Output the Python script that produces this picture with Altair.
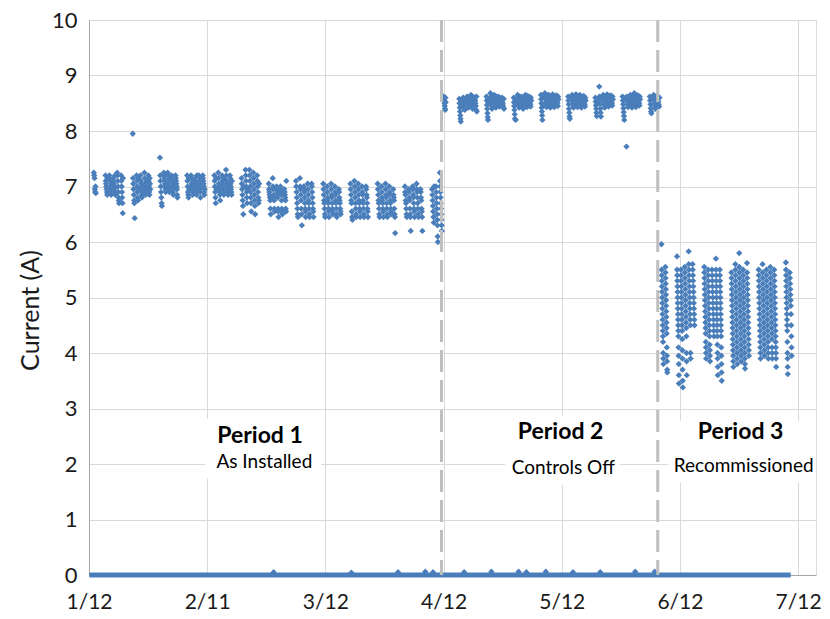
import altair as alt
import pandas as pd

ORIGIN = "2012-01-12"
BLUE = "#4A7EBB"
FONT = "Lato"

# x axis: ticks every 30.4 days from 1/12/2012
tick_days = [0, 30.4, 60.8, 91.2, 121.6, 152.0, 182.4]
tick_labels = ["1/12", "2/11", "3/12", "4/12", "5/12", "6/12", "7/12"]
y_ticks = [0, 1, 2, 3, 4, 5, 6, 7, 8, 9, 10]

# readings of a working day are logged between these hours
READ_START, READ_END = 6, 18

# ---------------- Period 1 : As Installed ----------------
p1_starts = ["2012-01-13", "2012-01-16", "2012-01-23", "2012-01-30", "2012-02-06",
             "2012-02-13", "2012-02-20", "2012-02-27", "2012-03-05", "2012-03-12",
             "2012-03-19", "2012-03-26", "2012-04-02", "2012-04-09"]
p1_readings = [
    ["7.25 7.2 7.15 6.95 6.9 7.0 6.88"],
    ["7.2 7.1 7.05 7.0 6.95 6.9 6.85 7.15",
     "7.2 7.15 7.1 7.0 6.95 6.9 6.85 7.05",
     "7.15 7.1 7.05 7.0 6.95 6.9 7.2 6.85",
     "7.25 7.2 7.1 7.0 6.9 6.8 6.75 6.7",
     "7.2 7.1 7.0 6.9 6.8 6.7 6.52 7.15"],
    ["7.95 7.15 7.05 6.95 6.85 6.75 6.7 6.43",
     "7.2 7.1 7.0 6.9 6.8 6.75 7.15 6.95",
     "7.2 7.1 7.05 6.95 6.85 6.8 7.0 6.9",
     "7.25 7.15 7.05 7.0 6.9 6.85 6.95 7.1",
     "7.2 7.1 7.0 6.9 6.85 7.15 7.05 6.95"],
    ["7.52 7.2 7.1 7.0 6.9 6.8 6.7 6.65",
     "7.25 7.2 7.15 7.1 7.05 7.0 6.95 6.9",
     "7.25 7.2 7.1 7.05 7.0 6.95 6.9 7.15",
     "7.2 7.15 7.1 7.0 6.95 6.9 6.85 7.05",
     "7.2 7.15 7.1 7.05 7.0 6.95 6.85 6.8"],
    ["7.2 7.1 7.0 6.9 6.85 6.8 7.15 6.95",
     "7.2 7.15 7.05 7.0 6.95 6.9 6.85 7.1",
     "7.15 7.1 7.05 7.0 6.95 6.9 6.85 7.2",
     "7.2 7.1 7.05 7.0 6.95 6.9 6.8 7.15",
     "7.2 7.15 7.1 7.05 7.0 6.9 6.85 6.95"],
    ["7.2 7.1 7.0 6.9 6.8 6.7 7.15 6.95",
     "7.25 7.15 7.05 7.0 6.95 6.9 6.85 6.75",
     "7.2 7.1 7.05 7.0 6.95 6.9 6.85 7.15",
     "7.3 7.2 7.1 7.05 7.0 6.95 6.9 6.85",
     "7.2 7.15 7.05 7.0 6.95 6.9 6.85 7.1"],
    ["7.15 7.05 6.95 6.85 6.75 6.65 6.5 7.0",
     "7.3 7.2 7.1 7.0 6.9 6.8 6.7 6.95",
     "7.3 7.2 7.1 7.0 6.9 6.8 6.7 6.55",
     "7.25 7.15 7.05 6.95 6.85 6.75 6.65 6.5",
     "7.2 7.1 7.0 6.9 6.8 6.7 6.75 7.05"],
    ["7.05 6.95 6.9 6.85 6.8 6.75 6.6 6.5",
     "7.15 7.0 6.95 6.85 6.8 6.75 6.6 6.55",
     "7.0 6.95 6.9 6.85 6.8 6.6 6.55 6.45",
     "7.0 6.95 6.9 6.85 6.75 6.6 6.55 6.5",
     "6.95 6.9 6.85 6.8 6.75 6.6 6.55 7.1"],
    ["7.1 7.0 6.9 6.8 6.7 6.6 6.5 6.45",
     "7.15 7.0 6.95 6.85 6.75 6.6 6.5 6.3",
     "7.0 6.95 6.9 6.8 6.7 6.6 6.55 6.45",
     "7.05 6.95 6.85 6.75 6.7 6.6 6.5 6.45",
     "7.05 7.0 6.9 6.8 6.7 6.6 6.55 6.45"],
    ["7.05 6.95 6.85 6.75 6.7 6.6 6.5 6.45",
     "7.0 6.9 6.8 6.75 6.7 6.6 6.55 6.45",
     "7.05 6.95 6.85 6.8 6.7 6.6 6.55 6.5",
     "7.0 6.9 6.85 6.75 6.7 6.6 6.5 6.45",
     "6.95 6.9 6.8 6.75 6.7 6.6 6.55 6.5"],
    ["7.05 6.95 6.85 6.75 6.7 6.55 6.45 6.4",
     "7.1 7.0 6.9 6.8 6.7 6.6 6.5 6.45",
     "7.05 6.95 6.85 6.75 6.7 6.6 6.55 6.45",
     "7.0 6.9 6.85 6.75 6.7 6.6 6.5 6.45",
     "7.0 6.95 6.85 6.8 6.7 6.6 6.55 6.45"],
    ["7.05 6.95 6.85 6.75 6.7 6.6 6.5 6.45",
     "7.0 6.9 6.8 6.75 6.7 6.6 6.55 6.45",
     "7.05 6.95 6.85 6.8 6.7 6.6 6.5 6.45",
     "7.0 6.9 6.85 6.75 6.7 6.6 6.55 6.5",
     "6.95 6.85 6.8 6.75 6.6 6.5 6.45 6.16"],
    ["7.0 6.9 6.85 6.75 6.7 6.6 6.5 6.45",
     "6.95 6.9 6.8 6.75 6.6 6.5 6.45 6.2",
     "7.0 6.95 6.85 6.8 6.7 6.6 6.55 6.45",
     "7.05 6.95 6.9 6.8 6.7 6.6 6.5 6.45",
     "6.95 6.9 6.8 6.75 6.6 6.55 6.45 6.2"],
    ["6.95 6.85 6.75 6.65 6.55 6.45 6.35 7.0",
     "7.0 6.9 6.8 6.7 6.6 6.5 6.4 6.3 6.1 6.0",
     "7.25 7.1 7.0 6.9 6.8 6.7 6.6 6.5 6.4 6.3 6.2"],
]

# ---------------- Period 2 : Controls Off ----------------
p2_starts = ["2012-04-12", "2012-04-16", "2012-04-23", "2012-04-30", "2012-05-07",
             "2012-05-14", "2012-05-21", "2012-05-28", "2012-06-04"]
p2_readings = [
    ["8.62 8.58 8.55 8.5 8.45 8.4 8.38 8.6 8.52"],
    ["8.58 8.5 8.42 8.35 8.28 8.22 8.17 8.45 8.55",
     "8.6 8.55 8.5 8.45 8.4 8.38 8.58",
     "8.62 8.58 8.52 8.48 8.42 8.55 8.6",
     "8.65 8.6 8.55 8.5 8.45 8.4 8.62",
     "8.6 8.55 8.5 8.45 8.38 8.62 8.35"],
    ["8.62 8.55 8.47 8.4 8.32 8.25 8.2 8.5 8.58",
     "8.68 8.6 8.55 8.5 8.45 8.4 8.63",
     "8.65 8.6 8.55 8.5 8.45 8.42 8.62",
     "8.62 8.58 8.52 8.48 8.44 8.6 8.55",
     "8.6 8.55 8.5 8.46 8.42 8.58 8.4"],
    ["8.6 8.52 8.45 8.38 8.3 8.22 8.5 8.56 8.2",
     "8.65 8.6 8.55 8.5 8.45 8.42 8.62",
     "8.62 8.58 8.54 8.5 8.46 8.4 8.6",
     "8.65 8.6 8.55 8.5 8.47 8.43 8.63",
     "8.62 8.57 8.52 8.48 8.44 8.6 8.55"],
    ["8.65 8.57 8.5 8.42 8.35 8.28 8.2 8.6 8.45",
     "8.68 8.62 8.57 8.52 8.47 8.43 8.65",
     "8.65 8.6 8.55 8.5 8.46 8.42 8.62",
     "8.66 8.61 8.56 8.51 8.47 8.43 8.63",
     "8.64 8.59 8.54 8.5 8.45 8.62 8.57"],
    ["8.62 8.55 8.48 8.4 8.33 8.26 8.22 8.58",
     "8.65 8.6 8.55 8.5 8.45 8.42 8.62",
     "8.66 8.61 8.56 8.51 8.47 8.43 8.63",
     "8.65 8.6 8.55 8.5 8.46 8.42 8.62",
     "8.63 8.58 8.53 8.48 8.44 8.6 8.55"],
    ["8.6 8.53 8.46 8.4 8.33 8.27 8.57 8.5",
     "8.8 8.62 8.55 8.48 8.4 8.33 8.26 8.58",
     "8.65 8.6 8.55 8.5 8.46 8.42 8.62",
     "8.66 8.61 8.56 8.51 8.47 8.44 8.63",
     "8.64 8.59 8.54 8.5 8.46 8.62 8.57"],
    ["8.62 8.55 8.48 8.41 8.34 8.27 8.2 8.58",
     "7.72 8.62 8.57 8.52 8.47 8.43 8.6",
     "8.65 8.6 8.55 8.5 8.46 8.42 8.63",
     "8.68 8.62 8.57 8.52 8.47 8.43 8.65",
     "8.64 8.59 8.54 8.5 8.46 8.62 8.57"],
    ["8.62 8.55 8.48 8.41 8.35 8.32 8.58",
     "8.65 8.6 8.55 8.5 8.45 8.4 8.62",
     "8.63 8.58 8.53 8.48 8.44 8.6"],
]

# ---------------- Period 3 : Recommissioned ----------------
p3_starts = ["2012-06-07", "2012-06-11", "2012-06-18", "2012-06-25", "2012-07-02", "2012-07-09"]
p3_readings = [
    ["5.96 5.5 5.4 5.3 5.2 5.1 5.0 4.9 4.8 4.7 4.6 4.5 4.4 4.3 4.2 4.0 3.9 3.8",
     "5.55 5.45 5.35 5.25 5.15 5.05 4.95 4.85 4.75 4.65 4.55 4.45 4.35 4.1 3.95 3.85 3.7 3.65"],
    ["5.74 5.5 5.4 5.3 5.2 5.1 5.0 4.9 4.8 4.7 4.6 4.5 4.4 4.3 4.1 3.95 3.8 3.6 3.45",
     "5.5 5.4 5.3 5.2 5.1 5.0 4.9 4.8 4.7 4.6 4.5 4.4 4.25 4.05 3.9 3.7 3.5 3.38",
     "5.55 5.45 5.35 5.25 5.15 5.05 4.95 4.85 4.75 4.65 4.55 4.45 4.3 4.0 3.85 3.6",
     "5.83 5.6 5.5 5.4 5.3 5.2 5.1 5.0 4.9 4.8 4.7 4.6 4.5 4.0 3.9",
     "5.6 5.5 5.4 5.3 5.2 5.1 5.0 4.9 4.8 4.7 4.6 4.5"],
    ["5.55 5.45 5.35 5.25 5.15 5.05 4.95 4.85 4.75 4.65 4.55 4.45 4.35 4.2 4.1 4.0 3.9",
     "5.5 5.4 5.3 5.2 5.1 5.0 4.9 4.8 4.7 4.6 4.5 4.4 4.3 4.15 4.05 3.95 3.85",
     "5.5 5.4 5.3 5.2 5.1 5.0 4.9 4.8 4.7 4.6 4.5 4.4 4.3",
     "5.7 5.5 5.4 5.3 5.2 5.1 5.0 4.9 4.8 4.7 4.6 4.5 4.4 4.3 4.15 4.0 3.9 3.75 3.6",
     "5.5 5.4 5.3 5.2 5.1 5.0 4.9 4.8 4.7 4.6 4.5 4.4 4.3 4.1 3.95 3.8 3.65 3.5"],
    ["5.45 5.35 5.25 5.15 5.05 4.95 4.85 4.75 4.65 4.55 4.45 4.35 4.25 4.15 4.05 3.95 3.85 3.75",
     "5.6 5.5 5.4 5.3 5.2 5.1 5.0 4.9 4.8 4.7 4.6 4.5 4.4 4.3 4.2 4.1 4.0 3.9 3.8",
     "5.8 5.55 5.45 5.35 5.25 5.15 5.05 4.95 4.85 4.75 4.65 4.55 4.45 4.35 4.25 4.15 4.05 3.95 3.85",
     "5.5 5.4 5.3 5.2 5.1 5.0 4.9 4.8 4.7 4.6 4.5 4.4 4.3 4.2 4.1 4.0 3.9 3.8 3.72",
     "5.62 5.45 5.35 5.25 5.15 5.05 4.95 4.85 4.75 4.65 4.55 4.45 4.35 4.25 4.15 4.05 3.95"],
    ["5.5 5.4 5.3 5.2 5.1 5.0 4.9 4.8 4.7 4.6 4.5 4.4 4.3 4.2 4.1 4.0 3.9",
     "5.6 5.45 5.35 5.25 5.15 5.05 4.95 4.85 4.75 4.65 4.55 4.45 4.35 4.25 4.15 4.05 3.95",
     "5.5 5.4 5.3 5.2 5.1 5.0 4.9 4.8 4.7 4.6 4.5 4.4 4.3 4.2 4.1 4.0 3.9",
     "5.55 5.45 5.35 5.25 5.15 5.05 4.95 4.85 4.75 4.65 4.55 4.45 4.35 4.25 4.1 4.0 3.9",
     "5.5 5.4 5.3 5.2 5.1 5.0 4.9 4.8 4.7 4.6 4.5 4.4 4.3 4.2 4.1 4.0 3.9 3.75"],
    ["5.63 5.5 5.4 5.3 5.2 5.1 5.0 4.9 4.8 4.7 4.6 4.5 4.4 4.2 4.0 3.9 3.75 3.62",
     "5.45 5.35 5.25 5.15 5.05 4.95 4.85 4.7 4.5 4.3 4.1 3.95"],
]

# off-hours readings (0 A) run continuously through the record
off_start, off_end = "2012-01-12 02:00", "2012-07-10 12:00"
# a few small non-zero readings during off-hours
low_dates = ["2012-02-28", "2012-03-19", "2012-03-31", "2012-04-07", "2012-04-09",
             "2012-04-17", "2012-04-24", "2012-05-01", "2012-05-03", "2012-05-08",
             "2012-05-15", "2012-05-22", "2012-05-31", "2012-06-05"]
low_values = [0.05, 0.04, 0.05, 0.06, 0.05, 0.05, 0.06, 0.06, 0.05, 0.06, 0.05, 0.05, 0.06, 0.06]

# period boundaries (dashed lines)
boundaries = ["2012-04-11 16:00", "2012-06-06 07:00"]

# annotations (label, date position, current position, bold)
ann_text = ["Period 1", "As Installed", "Period 2", "Controls Off", "Period 3", "Recommissioned"]
ann_day = [44.0, 45.1, 121.3, 122.0, 167.6, 168.4]
ann_val = [2.50, 2.03, 2.57, 1.92, 2.57, 1.97]
ann_bold = [True, False, True, False, True, False]
# white label boxes (day range, current range)
box_d1 = [29.8, 107.0, 149.0]
box_d2 = [59.8, 136.6, 187.0]
box_v1 = [1.74, 1.62, 1.67]
box_v2 = [2.82, 2.87, 2.78]


def day_offset(s):
    return (pd.Timestamp(s) - pd.Timestamp(ORIGIN)) / pd.Timedelta(days=1)


rows = []
for starts, weeks in [(p1_starts, p1_readings), (p2_starts, p2_readings), (p3_starts, p3_readings)]:
    for start, days in zip(starts, weeks):
        d0 = day_offset(start)
        for j, s in enumerate(days):
            vals = [float(v) for v in s.split()]
            n = len(vals)
            for k, v in enumerate(vals):
                hour = READ_START + (READ_END - READ_START) * k / max(n - 1, 1)
                rows.append({"t": d0 + j + hour / 24.0, "current": v})
pts = pd.DataFrame(rows)

low_df = pd.DataFrame({"t": [day_offset(d) + 0.5 for d in low_dates], "current": low_values})
off_df = pd.DataFrame({"t": [day_offset(off_start)], "t2": [day_offset(off_end)], "current": [0.0]})
bnd_df = pd.DataFrame({"t": [day_offset(b) for b in boundaries]})
ann_df = pd.DataFrame({"text": ann_text, "t": ann_day, "current": ann_val, "bold": ann_bold})
box_df = pd.DataFrame({"t": box_d1, "t2": box_d2, "current": box_v1, "current2": box_v2})

label_js = "[" + ",".join("'" + l + "'" for l in tick_labels) + "]"
x_axis = alt.Axis(values=tick_days, labelExpr=f"{label_js}[round(datum.value / {tick_days[1]})]",
                  grid=True, gridColor="#d9d9d9", gridWidth=1, ticks=False,
                  domainColor="#a6a6a6", domainWidth=1, labelFont=FONT, labelFontSize=21,
                  labelColor="#1a1a1a", labelPadding=16, title=None, labelFlush=False)
y_axis = alt.Axis(values=y_ticks, grid=True, gridColor="#d9d9d9", gridWidth=1, ticks=False,
                  domainColor="#a6a6a6", domainWidth=1, labelFont=FONT, labelFontSize=22,
                  labelColor="#1a1a1a", labelPadding=12, title="Current (A)",
                  titleFont=FONT, titleFontSize=25, titleFontWeight="normal", titleColor="#1a1a1a",
                  titleX=-59, titleY=290, titleAngle=-90, titleAlign="center", titleBaseline="middle")

xs = alt.Scale(domain=[0, 187.0], nice=False, zero=False)
ys = alt.Scale(domain=[0, 10], nice=False)

MARK = dict(shape="diamond", filled=True, size=40, opacity=1, color=BLUE)

points = alt.Chart(pts).mark_point(**MARK).encode(
    x=alt.X("t:Q", scale=xs, axis=x_axis),
    y=alt.Y("current:Q", scale=ys, axis=y_axis),
)
low_pts = alt.Chart(low_df).mark_point(**MARK).encode(
    x=alt.X("t:Q", scale=xs), y=alt.Y("current:Q", scale=ys))
off_rule = alt.Chart(off_df).mark_rule(color=BLUE, strokeWidth=5).encode(
    x=alt.X("t:Q", scale=xs), x2="t2:Q", y=alt.Y("current:Q", scale=ys))
boxes = alt.Chart(box_df).mark_rect(color="white").encode(
    x=alt.X("t:Q", scale=xs), x2="t2:Q", y=alt.Y("current:Q", scale=ys), y2="current2:Q")
bounds = alt.Chart(bnd_df).mark_rule(color="#bfbfbf", strokeWidth=3, strokeDash=[22, 8]).encode(
    x=alt.X("t:Q", scale=xs))
titles = alt.Chart(ann_df).transform_filter("datum.bold").mark_text(
    font=FONT, fontSize=23, fontWeight="bold", color="#000000", baseline="middle", align="center").encode(
    x=alt.X("t:Q", scale=xs), y=alt.Y("current:Q", scale=ys), text="text:N")
subs = alt.Chart(ann_df).transform_filter("!datum.bold").mark_text(
    font=FONT, fontSize=19, color="#000000", baseline="middle", align="center").encode(
    x=alt.X("t:Q", scale=xs), y=alt.Y("current:Q", scale=ys), text="text:N")

chart = alt.layer(boxes, off_rule, low_pts, points, bounds, titles, subs).properties(
    width=727, height=555,
    padding={"left": 81, "top": 12, "right": 6, "bottom": 40},
    autosize=alt.AutoSizeParams(type="none"),
).configure_view(strokeWidth=0).configure(background="white")

chart.save("out.html", embed_options={"renderer": "svg", "actions": False})
